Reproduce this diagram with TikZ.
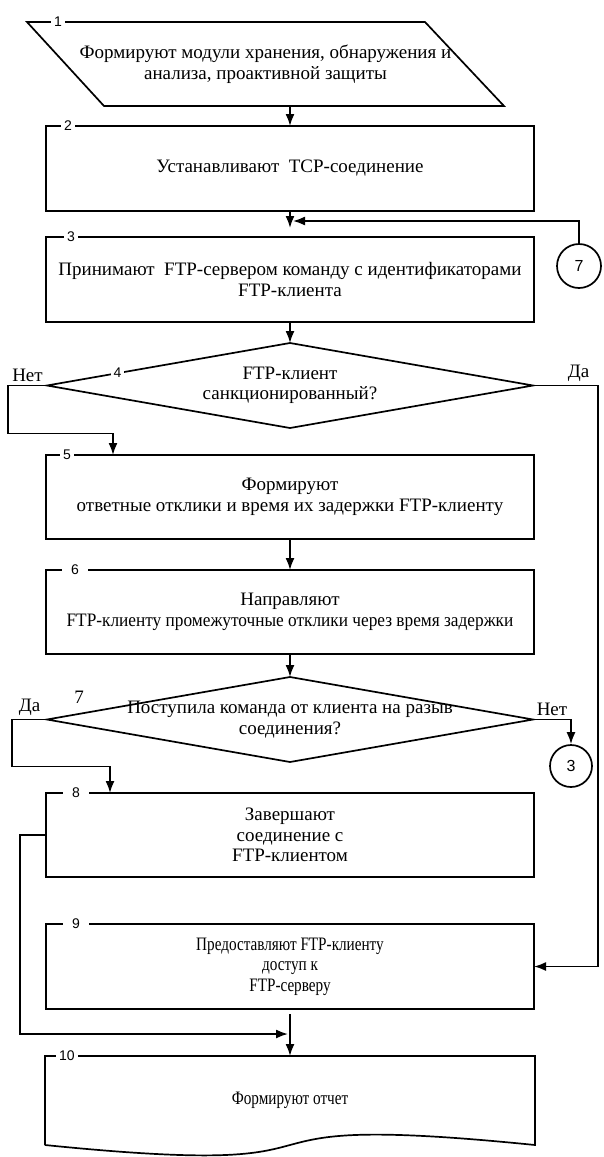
\documentclass[tikz,border=0pt]{standalone}
\usepackage{fontspec}
\setmainfont{Liberation Serif}
\setsansfont{Liberation Sans}
\newfontfamily\narrowserif{Liberation Serif}[FakeStretch=0.8]
\newfontfamily\semiserif{Liberation Serif}[FakeStretch=0.91]
\usepackage{tikz}
\usetikzlibrary{arrows.meta,positioning}

\newcommand{\txtsize}{\fontsize{19}{20.5}\selectfont}

\begin{document}
\begin{tikzpicture}[x=1pt,y=-1pt,>={Latex[length=12pt,width=9pt]},line width=1.7pt,
  box/.style={rectangle,draw,minimum width=488pt,minimum height=85pt,align=center,inner sep=0pt,outer sep=0pt,font=\txtsize},
  dec/.style={rectangle,minimum width=486pt,minimum height=85pt,align=center,inner sep=0pt,outer sep=0pt,font=\txtsize},
  num/.style={fill=white,inner xsep=3pt,inner ysep=1pt,font=\sffamily\fontsize{14}{14}\selectfont},
  wide num/.style={num,inner xsep=9pt},
  conn/.style={circle,draw,minimum size=44pt,inner sep=0pt,font=\sffamily\fontsize{16}{16}\selectfont},
  ans/.style={above,font=\txtsize}]
  \useasboundingbox (0,0) rectangle (603,1157);

  \node[box] (b2) at (290,168.5) {Устанавливают\ \ TCP-соединение};
  \node[dec,minimum width=477pt,minimum height=84pt] (p1) at (265.5,64) {Формируют модули хранения, обнаружения и\\анализа, проактивной защиты};
  \node[box,below=26pt of b2] (b3) {Принимают\ \ FTP-сервером команду с идентификаторами\\FTP-клиента};
  \node[dec,below=21pt of b3] (d4) {FTP-клиент\\санкционированный?};
  \node[box,below=27pt of d4,minimum height=84pt] (b5) {Формируют\\ответные отклики и время их задержки FTP-клиенту};
  \node[box,below=31pt of b5,minimum height=84pt] (b6) {Направляют\\{\semiserif FTP-клиенту промежуточные отклики через время задержки}};
  \node[dec,below=23pt of b6] (d7) {Поступила команда от клиента на разыв\\соединения?};
  \node[box,below=31pt of d7,minimum height=84pt] (b8) {Завершают\\соединение с\\FTP-клиентом};
  \node[box,below=47pt of b8,font=\narrowserif\txtsize] (b9) {Предоставляют FTP-клиенту\\доступ к\\FTP-серверу};
  \node[box,below=47pt of b9,draw=none,minimum width=490pt,minimum height=89pt,font=\narrowserif\txtsize] (b10) {Формируют отчет};

  \node[conn] (c7) at (579,266) {7};
  \node[conn,minimum size=42pt] (c3) at (571,766) {3};

  % input, decision and document outlines
  \draw (p1.north west) -- ([xshift=-79pt]p1.north east) -- (p1.south east) -- ([xshift=77pt]p1.south west) -- cycle;
  \draw (d4.west) -- node[num,pos=0.29] (n4) {4} (d4.north) -- (d4.east) -- (d4.south) -- cycle;
  \draw (d7.north) -- (d7.east) -- (d7.south) -- (d7.west) -- cycle;
  \node[font=\txtsize] (n7) at (79,697) {7};
  \draw (b10.south west) -- (b10.north west) -- (b10.north east) -- (b10.south east)
    .. controls +(-356,-36) and +(356,36) .. (b10.south west);

  % block numbers
  \node[num] (n1) at ([xshift=31pt]p1.north west) {1};
  \node[num] (n2) at ([xshift=22pt]b2.north west) {2};
  \node[num] (n3) at ([xshift=25pt]b3.north west) {3};
  \node[num] (n5) at ([xshift=21pt]b5.north west) {5};
  \node[wide num] (n6) at ([xshift=29pt]b6.north west) {6};
  \node[wide num] (n8) at ([xshift=30pt]b8.north west) {8};
  \node[wide num] (n9) at ([xshift=30pt]b9.north west) {9};
  \node[num] (n10) at ([xshift=22pt]b10.north west) {10};

  \coordinate (j3) at ([yshift=16pt]b3.north);
  \coordinate (j10) at ([yshift=22pt]b10.north);

  \draw[->] (p1.south -| b2.north) -- (b2.north);
  \draw[->] (b2.south) -- ([yshift=9pt]b3.north);
  \draw[->] (c7.north) |- ([xshift=3pt]j3);
  \draw[->] (b3.south) -- (d4.north);
  \draw[->] (d4.west) -- node[ans] (no4) {Нет} ++(-39,0) -- ++(0,48) -| ([xshift=67pt]b5.north west);
  \draw[->] (d4.east) -- node[ans,pos=0.7] (yes4) {Да} ++(65,0) |- (b9.east);
  \draw[->] (b5) -- (b6);
  \draw[->] (b6) -- (d7.north);
  \draw[->] (d7.west) -- node[ans] (yes7) {Да} ++(-35,0) -- ++(0,47) -| ([xshift=64pt]b8.north west);
  \draw[->] (d7.east) -| node[ans,pos=0.25] (no7) {Нет} (c3.north);
  \draw[->] (b8.west) -- ++(-26,0) |- ([xshift=-2pt]j10);
  \draw[->] ([yshift=-5pt]b9.south) -- (b10.north);
\end{tikzpicture}
\end{document}
